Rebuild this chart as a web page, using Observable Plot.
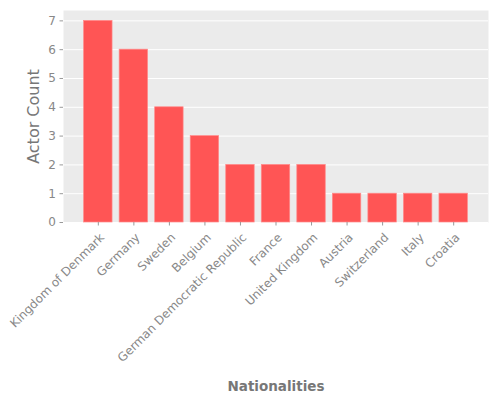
<!DOCTYPE html>
<html>
<head>
<meta charset="utf-8">
<script src="https://cdn.jsdelivr.net/npm/d3@7"></script>
<script src="https://cdn.jsdelivr.net/npm/@observablehq/plot@0.6"></script>
<style>
  body { margin: 0; background: #fff; }
  #chart svg { display: block; }
</style>
</head>
<body>
<div id="chart"></div>
<script>
const nationalities = ["Kingdom of Denmark", "Germany", "Sweden", "Belgium", "German Democratic Republic", "France", "United Kingdom", "Austria", "Switzerland", "Italy", "Croatia"];
const actorCounts = [7, 6, 4, 3, 2, 2, 2, 1, 1, 1, 1];
const yTicks = [0, 1, 2, 3, 4, 5, 6, 7];

const data = nationalities.map((n, i) => ({nationality: n, count: actorCounts[i]}));

const chart = Plot.plot({
  width: 500,
  height: 400,
  marginLeft: 63,
  marginRight: 12,
  marginTop: 10,
  marginBottom: 178,
  style: {fontFamily: "DejaVu Sans", fontSize: "12px", color: "#888", background: "#fff"},
  x: {domain: nationalities, paddingInner: 0.2, paddingOuter: 0.58, align: 0.5, round: false},
  y: {domain: [0, 7.36]},
  marks: [
    Plot.frame({fill: "#EBEBEB", stroke: null}),
    Plot.gridY(yTicks, {stroke: "#fff", strokeOpacity: 1, strokeWidth: 1}),
    Plot.barY(data, {x: "nationality", y: "count", fill: "#FF5555", stroke: "#FF8A8A", strokeWidth: 0.7}),
    Plot.axisY(yTicks, {tickSize: 3.5, tickPadding: 4, stroke: "#999", fill: "#888", fontSize: 12, label: null}),
    Plot.axisX({tickSize: 3.5, stroke: "#999", fill: "none", label: null}),
    Plot.axisX({tickSize: 0, tickPadding: 7, tickRotate: -45, dx: 4, dy: 6, fill: "#888", fontSize: 12, label: null}),
    Plot.text(["Actor Count"], {frameAnchor: "left", rotate: -90, dx: -30, fill: "#777", fontSize: 16, textAnchor: "middle"}),
    Plot.text(["Nationalities"], {frameAnchor: "bottom", dy: 168, fill: "#777", fontSize: 13.5, fontWeight: "bold", textAnchor: "middle"})
  ]
});
document.getElementById("chart").appendChild(chart);
</script>
</body>
</html>
